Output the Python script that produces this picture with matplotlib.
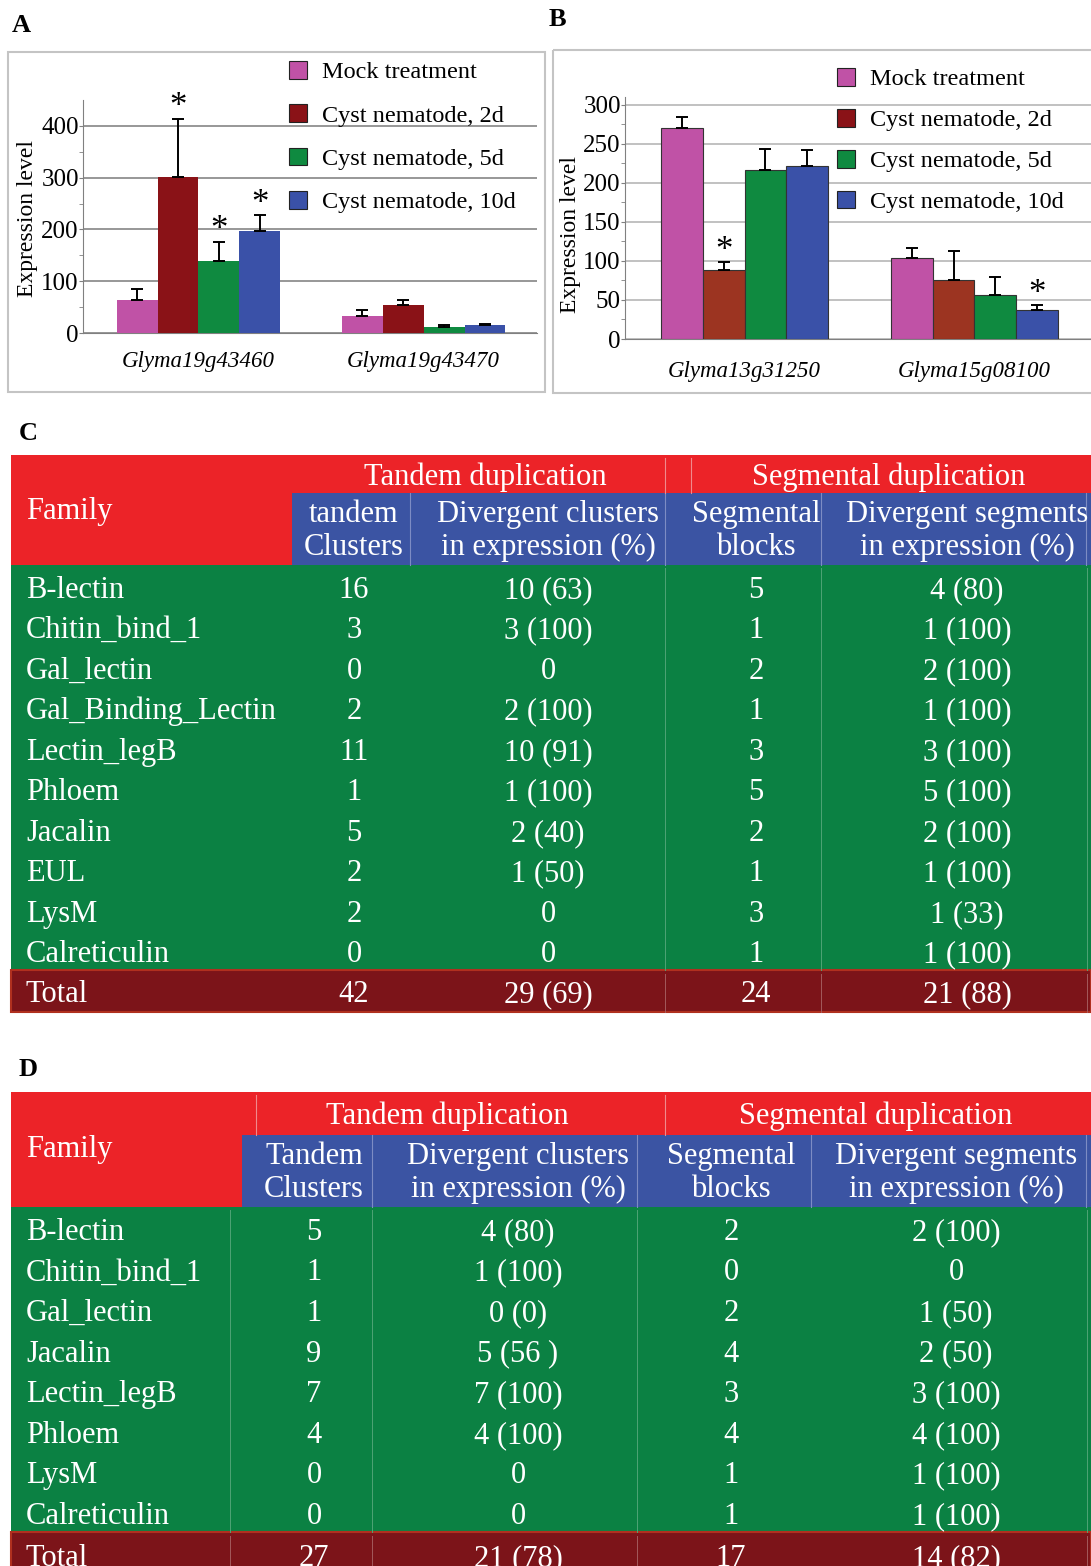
import matplotlib
matplotlib.use("Agg")
import matplotlib.pyplot as plt
from matplotlib.patches import Rectangle, Patch
import numpy as np

plt.rcParams['font.family'] = ['Liberation Serif', 'DejaVu Serif']

# ---- panel A data (expression level, mean and upper error) ----
genes_a = ["Glyma19g43460", "Glyma19g43470"]
mock_a = [63, 32]
cyst2d_a = [301, 54]
cyst5d_a = [139, 11]
cyst10d_a = [197, 15]
mock_a_err = [22, 13]
cyst2d_a_err = [113, 9]
cyst5d_a_err = [37, 4]
cyst10d_a_err = [31, 2]
stars_a = [[False, False], [True, False], [True, False], [True, False]]

# ---- panel B data ----
genes_b = ["Glyma13g31250", "Glyma15g08100"]
mock_b = [270, 104]
cyst2d_b = [88, 76]
cyst5d_b = [216, 56]
cyst10d_b = [221, 37]
mock_b_err = [15, 13]
cyst2d_b_err = [10, 37]
cyst5d_b_err = [27, 23]
cyst10d_b_err = [21, 6]
stars_b = [[False, False], [True, False], [False, False], [False, True]]

series_labels = ["Mock treatment", "Cyst nematode, 2d", "Cyst nematode, 5d", "Cyst nematode, 10d"]

# ---- table C ----
families_c = ["B-lectin", "Chitin_bind_1", "Gal_lectin", "Gal_Binding_Lectin", "Lectin_legB",
              "Phloem", "Jacalin", "EUL", "LysM", "Calreticulin"]
tandem_c = ["16", "3", "0", "2", "11", "1", "5", "2", "2", "0"]
div_clusters_c = ["10 (63)", "3 (100)", "0", "2 (100)", "10 (91)", "1 (100)", "2 (40)", "1 (50)", "0", "0"]
seg_blocks_c = ["5", "1", "2", "1", "3", "5", "2", "1", "3", "1"]
div_segments_c = ["4 (80)", "1 (100)", "2 (100)", "1 (100)", "3 (100)", "5 (100)", "2 (100)", "1 (100)",
                  "1 (33)", "1 (100)"]
total_c = ["42", "29 (69)", "24", "21 (88)"]
subheads_c = ["tandem\nClusters", "Divergent clusters\nin expression (%)", "Segmental\nblocks",
              "Divergent segments\nin expression (%)"]

# ---- table D ----
families_d = ["B-lectin", "Chitin_bind_1", "Gal_lectin", "Jacalin", "Lectin_legB", "Phloem", "LysM",
              "Calreticulin"]
tandem_d = ["5", "1", "1", "9", "7", "4", "0", "0"]
div_clusters_d = ["4 (80)", "1 (100)", "0 (0)", "5 (56 )", "7 (100)", "4 (100)", "0", "0"]
seg_blocks_d = ["2", "0", "2", "4", "3", "4", "1", "1"]
div_segments_d = ["2 (100)", "0", "1 (50)", "2 (50)", "3 (100)", "4 (100)", "1 (100)", "1 (100)"]
total_d = ["27", "21 (78)", "17", "14 (82)"]
subheads_d = ["Tandem\nClusters", "Divergent clusters\nin expression (%)", "Segmental\nblocks",
              "Divergent segments\nin expression (%)"]

PINK = '#c052a6'
DRED = '#8a1217'
RUST = '#9c3421'
GREEN = '#0f8a40'
BLUE = '#3a51a8'
colors_a = [PINK, DRED, GREEN, BLUE]
colors_b = [PINK, RUST, GREEN, BLUE]

T_RED = '#ec2328'
T_BLUE = '#3b54a3'
T_GREEN = '#0b8143'
T_TOTAL = '#7c1419'

W, H = 1091, 1566
fig = plt.figure(figsize=(W / 100, H / 100), dpi=100)


def px_axes(x0, y0, x1, y1):
    return fig.add_axes([x0 / W, 1 - y1 / H, (x1 - x0) / W, (y1 - y0) / H])


bg = px_axes(0, 0, W, H)
bg.set_xlim(0, W)
bg.set_ylim(H, 0)
bg.axis('off')

# panel frames and letters
bg.add_patch(Rectangle((8, 52), 537, 340, fill=False, edgecolor='#c4c4c4', lw=1.5))
bg.add_patch(Rectangle((553, 50), 545, 343, fill=False, edgecolor='#c4c4c4', lw=1.5))
for lab, x, y in [("A", 12, 25), ("B", 549, 20), ("C", 19, 433), ("D", 19, 1070)]:
    bg.text(x, y, lab, fontsize=19, fontweight='bold', ha='left', va='center')


def bar_panel(ax, genes, means, errs, stars, colors, ymax, step, grid_col, edge, leg_xy, leg_space):
    x = np.arange(len(genes))
    w = 0.182
    for i in range(4):
        pos = x + (i - 1.5) * w
        ax.bar(pos, means[i], w, color=colors[i], edgecolor=edge, lw=0.8 if edge else 0, zorder=3)
        ax.errorbar(pos, means[i], yerr=[np.zeros(len(genes)), errs[i]], fmt='none', ecolor='black',
                    elinewidth=1.4, capsize=4.5, capthick=1.4, zorder=4)
        for j in range(len(genes)):
            if stars[i][j]:
                ax.annotate("*", (pos[j], means[i][j] + errs[i][j]), xytext=(0, -4),
                            textcoords='offset points', ha='center', va='bottom', fontsize=25, zorder=5)
    ax.set_ylim(0, ymax)
    ax.set_yticks(np.arange(0, ymax, step))
    ax.set_yticks(np.arange(0, ymax, step / 2), minor=True)
    ax.yaxis.grid(True, color=grid_col, lw=1.1, zorder=0)
    ax.set_axisbelow(True)
    ax.set_facecolor('none')
    for s in ['top', 'right']:
        ax.spines[s].set_visible(False)
    ax.spines['left'].set_color('#808080')
    ax.spines['bottom'].set_color('#808080')
    ax.tick_params(axis='y', labelsize=18, length=3, color='#808080', pad=0)
    ax.tick_params(axis='y', which='minor', length=3, color='#808080')
    ax.set_xticks(x)
    ax.set_xticklabels(genes, fontstyle='italic', fontsize=16.5)
    ax.tick_params(axis='x', length=0, pad=13)
    ax.set_ylabel("Expression level", fontsize=17)
    handles = [Patch(facecolor=c, edgecolor='#222222', lw=0.8) for c in [PINK, DRED, GREEN, BLUE]]
    fig.legend(handles, series_labels, loc='upper left',
               bbox_to_anchor=(leg_xy[0] / W, 1 - leg_xy[1] / H), frameon=False, fontsize=17.5,
               handlelength=0.75, handleheight=0.75, handletextpad=0.6, labelspacing=leg_space,
               borderpad=0, borderaxespad=0)


axA = px_axes(83, 100, 537, 333)
bar_panel(axA, genes_a, [mock_a, cyst2d_a, cyst5d_a, cyst10d_a],
          [mock_a_err, cyst2d_a_err, cyst5d_a_err, cyst10d_a_err], stars_a, colors_a,
          450, 100, '#7a7a7a', None, (289, 61), 0.86)
axA.set_xlim(-0.513, 1.504)
axA.yaxis.set_label_coords(-0.1, 0.49)

axB = px_axes(625, 97, 1091, 339)
bar_panel(axB, genes_b, [mock_b, cyst2d_b, cyst5d_b, cyst10d_b],
          [mock_b_err, cyst2d_b_err, cyst5d_b_err, cyst10d_b_err], stars_b, colors_b,
          310, 50, '#b0b0b0', '#333333', (837, 68), 0.76)
axB.set_xlim(-0.52, 1.507)
axB.tick_params(axis='x', pad=16)
axB.yaxis.set_label_coords(-0.095, 0.43)


def draw_table(top, head_split, head_bot, blue_x0, row_h, n_rows, total_h, families, cols, total,
               subheads, col_cx, fam_y, group_cx, blue_edges, top_lines, body_lines):
    fs = 22
    tc = 'white'
    # header
    bg.add_patch(Rectangle((11, top), W - 11, head_bot - top, color=T_RED, lw=0))
    bg.add_patch(Rectangle((blue_x0, head_split), W - blue_x0, head_bot - head_split, color=T_BLUE, lw=0))
    for xe in blue_edges:
        bg.plot([xe, xe], [head_split, head_bot], color='#7d8cc4', lw=0.8)
    for xe in top_lines:
        bg.plot([xe, xe], [top + 3, head_split], color='#f08a8c', lw=0.8)
    bg.text(26, fam_y, "Family", fontsize=fs, color=tc, ha='left', va='center')
    bg.text(group_cx[0], (top + head_split) / 2 + 3, "Tandem duplication", fontsize=fs, color=tc,
            ha='center', va='center')
    bg.text(group_cx[1], (top + head_split) / 2 + 3, "Segmental duplication", fontsize=fs, color=tc,
            ha='center', va='center')
    for cx, s in zip(col_cx, subheads):
        bg.text(cx, (head_split + head_bot) / 2 + 2, s, fontsize=fs, color=tc, ha='center', va='center',
                linespacing=1.22, multialignment='center')
    # body
    body_bot = head_bot + row_h * n_rows
    bg.add_patch(Rectangle((11, head_bot), W - 11, body_bot - head_bot, color=T_GREEN, lw=0))
    for xe in body_lines:
        bg.plot([xe, xe], [head_bot + 3, body_bot], color='#4fa475', lw=0.7)
    for r in range(n_rows):
        cy = head_bot + row_h * (r + 0.5) + 5
        bg.text(26, cy, families[r], fontsize=fs, color=tc, ha='left', va='center')
        for cx, col in zip(col_cx, cols):
            bg.text(cx, cy, col[r], fontsize=fs, color=tc, ha='center', va='center')
    # total row
    bg.add_patch(Rectangle((11, body_bot), W - 11, total_h, facecolor=T_TOTAL, edgecolor='#b0301f', lw=1.5))
    for xe in body_lines:
        bg.plot([xe, xe], [body_bot + 4, body_bot + total_h], color='#a45a5c', lw=0.7)
    cy = body_bot + total_h / 2 + 4
    bg.text(26, cy, "Total", fontsize=fs, color=tc, ha='left', va='center')
    for cx, s in zip(col_cx, total):
        bg.text(cx, cy, s, fontsize=fs, color=tc, ha='center', va='center')


draw_table(455, 493, 565, 292, 40.5, len(families_c), 42, families_c,
           [tandem_c, div_clusters_c, seg_blocks_c, div_segments_c], total_c, subheads_c,
           [354, 548, 756, 967], 511, [485, 889], [410, 665, 821, 1086], [665, 691],
           [665, 821, 1087])

draw_table(1092, 1135, 1207, 242, 40.6, len(families_d), 45, families_d,
           [tandem_d, div_clusters_d, seg_blocks_d, div_segments_d], total_d, subheads_d,
           [314, 518, 731, 956], 1150, [447, 876], [372, 637, 811, 1086], [256, 665],
           [230, 372, 637, 1087])

fig.savefig("out.png", dpi=100)
